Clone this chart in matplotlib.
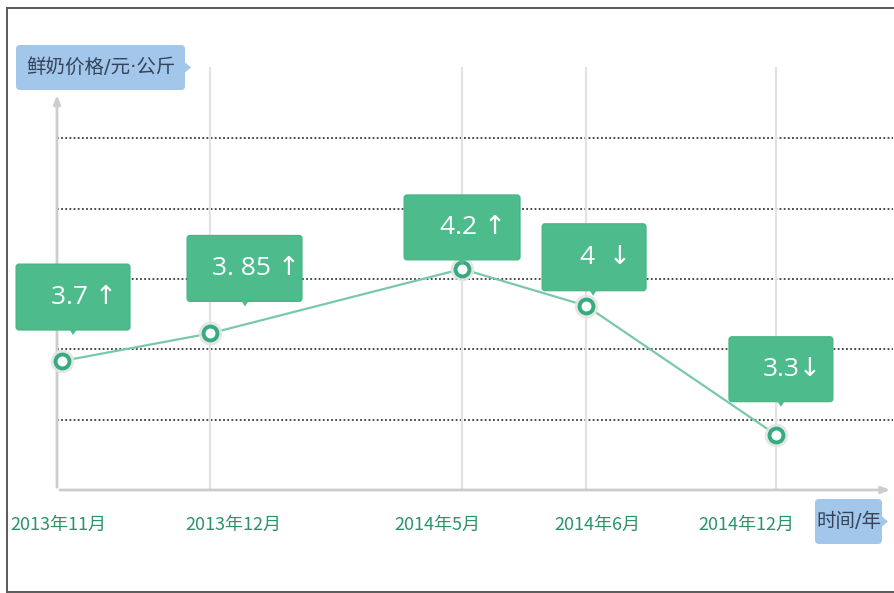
import matplotlib
matplotlib.use('Agg')
import matplotlib.pyplot as plt
import matplotlib.transforms as mtransforms
from matplotlib.patches import FancyBboxPatch, Polygon
from matplotlib.lines import Line2D

# ---------------- data ----------------
dates = ["2013年11月", "2013年12月", "2014年5月", "2014年6月", "2014年12月"]
prices = [3.7, 3.85, 4.2, 4.0, 3.3]
value_labels = ["3.7", "3. 85", "4.2", "4", "3.3"]
trend = ["↑", "↑", "↑", "↓", "↓"]
y_title = "鲜奶价格/元·公斤"
x_title = "时间/年"

# ---------------- layout ----------------
x_pos = [0, 1, 2.703, 3.541, 4.824]
tick_pos = [-0.027, 1.155, 2.534, 3.615, 4.622]
label_sep = [" ", " ", " ", "  ", ""]
# box extents in pixels relative to point: left, right, bottom, top, pointer dx
box_ext = [(-46, 68, 31, 97, 11), (-23, 92, 32, 98, 35), (-58, 58, 9, 74, 0),
           (-44, 60, 15, 82, 7), (-47, 57, 33, 98, 5)]
grid_levels = [3.38, 3.765, 4.145, 4.525, 4.91]

W, H = 894, 593
fig = plt.figure(figsize=(W / 100, H / 100), dpi=100)
fig.patch.set_facecolor('white')
ax = fig.add_axes([57 / W, (H - 490) / H, (893 - 57) / W, (490 - 67) / H])
ax.set_xlim(-0.034, 5.615)
ax.set_ylim(3.0, 5.296)
for s in ax.spines.values():
    s.set_visible(False)
ax.set_yticks([])

# pixel transform for chrome (reference coords, y down)
pix = mtransforms.Affine2D().scale(1, -1).translate(0, H)

# figure border
for xs, ys in [((7, 7), (8, 592)), ((7, 894), (8, 8)), ((7, 894), (592, 592))]:
    fig.add_artist(Line2D(xs, ys, transform=pix, color='#5a5a5a', lw=1.4))

# horizontal dotted grid
for g in grid_levels:
    ax.axhline(g, color='#3c3c3c', lw=1.3, linestyle=(0, (1, 1.3)), zorder=1)
# vertical grid
for xv in x_pos[1:]:
    ax.axvline(xv, color='#e2e2e2', lw=1.5, zorder=1)

# axes with arrows
ax.annotate('', xy=(0, 0.94), xytext=(0, 0), xycoords='axes fraction',
            arrowprops=dict(arrowstyle='-|>,head_width=0.2,head_length=0.5',
                            color='#cdcdcd', lw=2), zorder=2)
ax.annotate('', xy=(1.0, 0), xytext=(0, 0), xycoords='axes fraction',
            arrowprops=dict(arrowstyle='-|>,head_width=0.2,head_length=0.5',
                            color='#cdcdcd', lw=2), zorder=2)

# line + markers
ax.plot(x_pos, prices, color='#79c9a8', lw=1.6, zorder=3)
ax.plot(x_pos, prices, 'o', ms=17, color='#e4e4e4', alpha=0.9, mec='none',
        zorder=4, clip_on=False)
ax.plot(x_pos, prices, 'o', ms=10, mfc='white', mec='#36ab80', mew=2.8,
        zorder=5, clip_on=False)

# value boxes
for i, (xv, yv) in enumerate(zip(x_pos, prices)):
    l, r, b, t, pdx = box_ext[i]
    tr = mtransforms.Affine2D() + mtransforms.ScaledTranslation(xv, yv, ax.transData)
    box = FancyBboxPatch((l, b), r - l, t - b,
                         boxstyle='round,pad=0,rounding_size=3',
                         transform=tr, facecolor='#4dbb8c', edgecolor='#47b385',
                         lw=0.8, zorder=6, clip_on=False)
    ax.add_patch(box)
    tri = Polygon([(pdx - 4, b + 1), (pdx + 4, b + 1), (pdx, b - 5)], closed=True,
                  transform=tr, facecolor='#4dbb8c', edgecolor='none', zorder=6,
                  clip_on=False)
    ax.add_patch(tri)
    ttr = mtransforms.offset_copy(ax.transData, fig, x=(l + r) / 2 + 11,
                                  y=(b + t) / 2, units='dots')
    ax.text(xv, yv, value_labels[i] + label_sep[i] + trend[i], transform=ttr,
            ha='center', va='center', color='white', fontsize=19,
            family=['Open Sans', 'DejaVu Sans'], zorder=7, clip_on=False)

# x tick labels
ax.set_xticks(tick_pos)
ax.set_xticklabels(dates, family=['Noto Sans CJK SC', 'DejaVu Sans'],
                   fontsize=13, color='#2a9468')
ax.tick_params(axis='x', length=0, pad=19)

# axis title boxes
def title_box(x0, y0, x1, y1, text, fs):
    box = FancyBboxPatch((x0, H - y1), x1 - x0, y1 - y0,
                         boxstyle='round,pad=0,rounding_size=4',
                         transform=mtransforms.IdentityTransform(),
                         facecolor='#a3c7eb', edgecolor='none', zorder=10)
    fig.add_artist(box)
    ym = (y0 + y1) / 2
    fig.add_artist(Polygon([(x1, ym - 5), (x1 + 6, ym), (x1, ym + 5)], closed=True,
                           transform=pix, facecolor='#a3c7eb', edgecolor='none',
                           zorder=10))
    fig.text((x0 + x1) / 2 / W, 1 - ym / H, text, ha='center', va='center',
             fontsize=fs, color='#34435a',
             family=['DejaVu Sans', 'Noto Sans CJK SC'], zorder=11)

title_box(16, 45, 185, 90, y_title, 14)
title_box(815, 499, 882, 544, x_title, 14)

fig.savefig('out.png', dpi=100, facecolor='white')
